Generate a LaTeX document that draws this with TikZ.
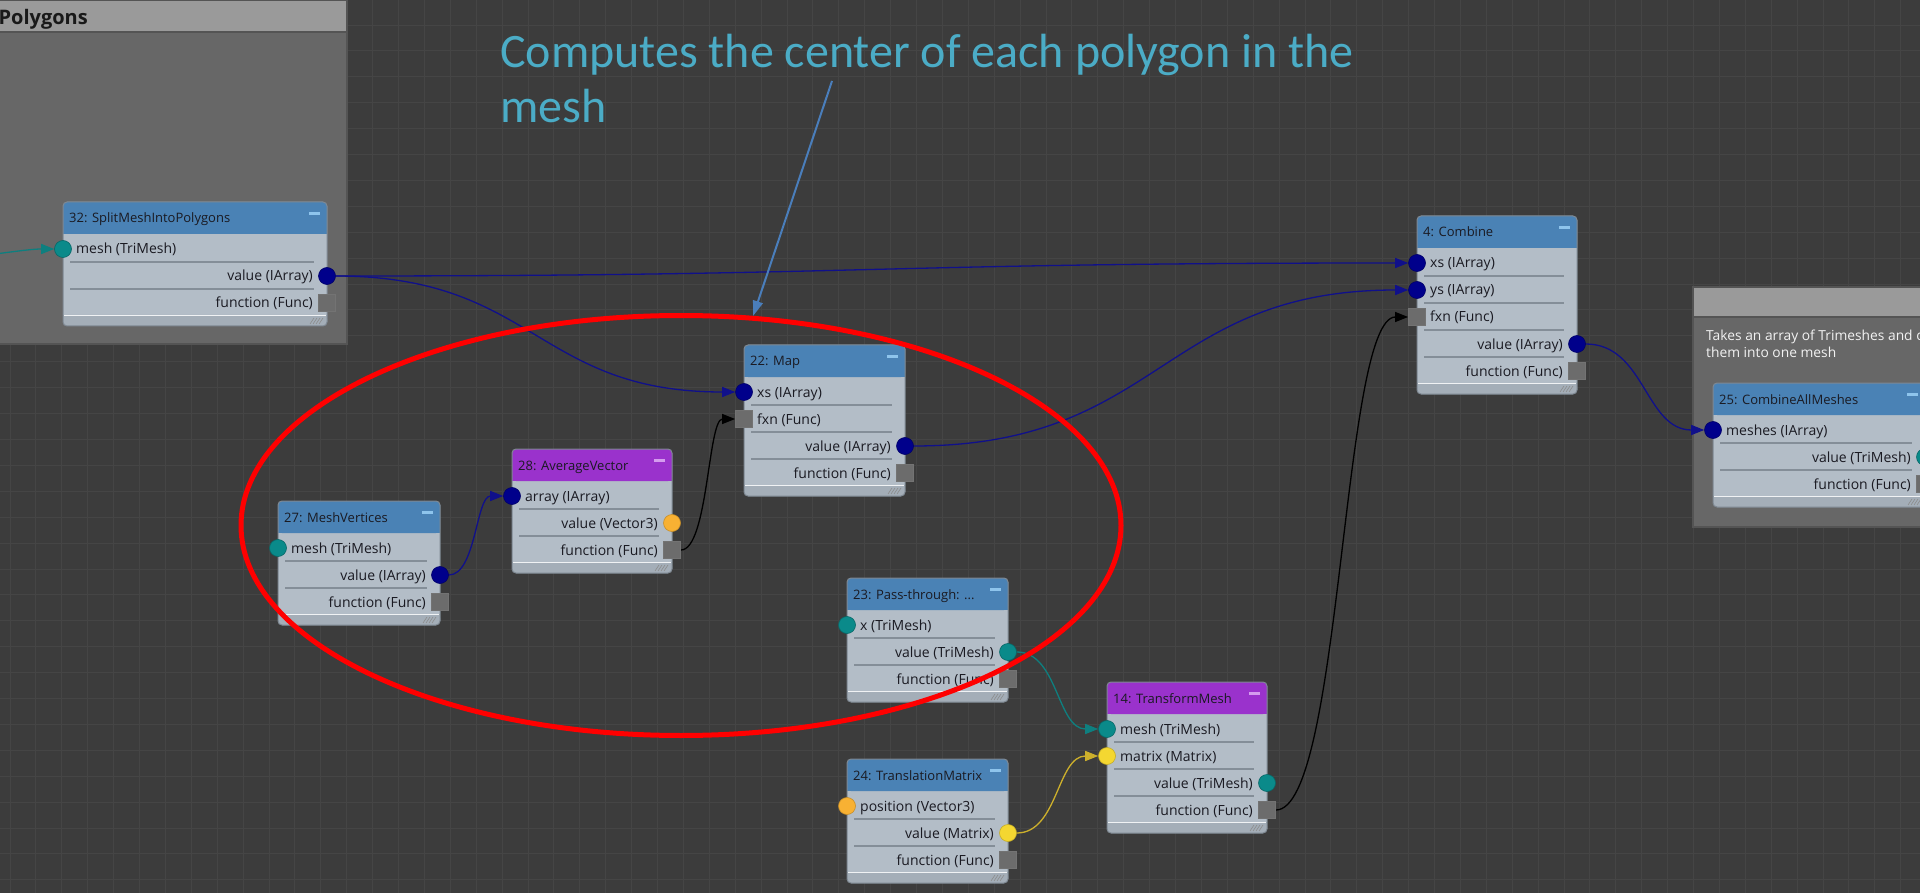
\documentclass[tikz,border=0pt]{standalone}
\usepackage{fontspec}
\usetikzlibrary{arrows.meta,shapes.geometric}
\newfontfamily\uifont{Open Sans}
\newfontfamily\capfont{Carlito}

\definecolor{canvas}{HTML}{3C3C3C}
\definecolor{gridline}{HTML}{454545}
\definecolor{groupbody}{HTML}{676767}
\definecolor{groupbar}{HTML}{9A9A9A}
\definecolor{groupedge}{HTML}{545454}
\definecolor{headblue}{HTML}{4A82B5}
\definecolor{headpurple}{HTML}{9A32CC}
\definecolor{nodebody}{HTML}{B3BDC7}
\definecolor{nodeedge}{HTML}{7E8892}
\definecolor{rowline}{HTML}{848E98}
\definecolor{footband}{HTML}{A4AEB8}
\definecolor{labelink}{HTML}{1A1A22}
\definecolor{arrnavy}{HTML}{00008B}
\definecolor{meshteal}{HTML}{0A8A8A}
\definecolor{vecorange}{HTML}{F8B133}
\definecolor{matyellow}{HTML}{F4D731}
\definecolor{funcgrey}{HTML}{6C6C6C}
\definecolor{wirenavy}{HTML}{10108A}
\definecolor{wireteal}{HTML}{0E7F7F}
\definecolor{wireyellow}{HTML}{CDB02C}
\definecolor{notecyan}{HTML}{4BACC6}
\definecolor{pointerblue}{HTML}{4A7EBB}
\definecolor{minusblue}{HTML}{8EC4EC}
\definecolor{minuspurple}{HTML}{D49CEE}

\pgfdeclarelayer{canvaslayer}
\pgfdeclarelayer{wirelayer}
\pgfsetlayers{canvaslayer,wirelayer,main}

\tikzset{
  rowtext/.style={font=\uifont\fontsize{14}{16}\selectfont, text=labelink,
    inner sep=0pt, text height=10pt, text depth=0pt},
  titletext/.style={font=\uifont\fontsize{13}{15}\selectfont, text=labelink,
    inner sep=0pt, text height=10pt, text depth=0pt},
  port/.style={circle, inner sep=0pt, minimum size=17pt, line width=0.6pt},
  arrayport/.style={port, fill=arrnavy, draw=arrnavy!75!black},
  meshport/.style={port, fill=meshteal, draw=meshteal!75!black},
  vecport/.style={port, fill=vecorange, draw=vecorange!80!black},
  matport/.style={port, fill=matyellow, draw=matyellow!80!black},
  funcport/.style={rectangle, inner sep=0pt, minimum size=17pt, fill=funcgrey,
    draw=black!55, line width=0.8pt},
  wire/.style={line width=1.3pt, -{Triangle[length=13pt,width=10pt]}},
  gripline/.style={draw=black!45, line width=0.6pt},
}

% A flow-graph operator box: name, left, top, width, rows, header colour, minus colour, title
\newcommand\flowbox[8]{%
  \def\bn{#1}%
  \pgfmathsetmacro\bx{#2}%
  \pgfmathsetmacro\by{#3}%
  \pgfmathsetmacro\bxr{#2+#4}%
  \pgfmathsetmacro\byb{#3+32+15+27*(#5-1)+23}%
  \pgfmathsetmacro\byh{#3+32}%
  \pgfmathtruncatemacro\nsep{#5-1}%
  \fill[nodebody, rounded corners=4pt] (\bx,\by) rectangle (\bxr,\byb);
  \fill[footband, rounded corners=4pt] (\bx,\byb-11) rectangle (\bxr,\byb);
  \fill[footband] (\bx,\byb-11) rectangle (\bxr,\byb-5);
  \draw[white!80!nodebody, line width=0.8pt] (\bx+1,\byb-11) -- (\bxr-1,\byb-11);
  \fill[#6, rounded corners=4pt] (\bx,\by) rectangle (\bxr,\byh);
  \fill[#6] (\bx,\byh-6) rectangle (\bxr,\byh);
  \draw[nodeedge, line width=1pt, rounded corners=4pt] (\bx,\by) rectangle (\bxr,\byb);
  \foreach \k in {1,...,\nsep} {
    \draw[rowline, line width=1.2pt] (\bx+7,\by+33+27*\k) -- (\bxr-13,\by+33+27*\k);
  }
  \fill[#7] (\bxr-18,\by+10) rectangle (\bxr-7,\by+13);
  \foreach \g in {0,3,6,9} {
    \draw[gripline] (\bxr-17+\g,\byb-2) -- (\bxr-13+\g,\byb-8);
  }
  \node[titletext, anchor=west] (#1-title) at (\bx+6,\by+16) {#8};
}
% Input row: index, label, port style
\newcommand\rowin[3]{%
  \pgfmathsetmacro\ry{\by+47+27*(#1-1)}%
  \node[rowtext, anchor=west] (\bn-t#1) at (\bx+13,\ry) {#2};
  \node[#3] (\bn-p#1) at (\bx,\ry) {};
}
% Output row: index, label, port style
\newcommand\rowout[3]{%
  \pgfmathsetmacro\ry{\by+47+27*(#1-1)}%
  \node[rowtext, anchor=east] (\bn-t#1) at (\bxr-14,\ry) {#2};
  \node[#3] (\bn-p#1) at (\bxr,\ry) {};
}

\begin{document}
\begin{tikzpicture}[x=1pt, y=-1pt]
\useasboundingbox (0,0) rectangle (1920,893);

\begin{pgfonlayer}{canvaslayer}
  \fill[canvas] (0,0) rectangle (1920,893);
  \foreach \gx in {9.9,35.8,...,1920} { \draw[gridline, line width=0.8pt] (\gx,0) -- (\gx,893); }
  \foreach \gy in {25,50.9,...,893} { \draw[gridline, line width=0.8pt] (0,\gy) -- (1920,\gy); }
  % group frames
  \fill[groupbody] (-20,0) rectangle (347,344);
  \fill[groupbar] (-20,0) rectangle (347,32);
  \draw[groupedge, line width=1.5pt] (-20,32) -- (347,32);
  \draw[groupedge, line width=2pt] (-20,0) rectangle (347,344);
  \fill[groupbody] (1693,287) rectangle (1940,527);
  \fill[groupbar] (1693,287) rectangle (1940,317);
  \draw[groupedge, line width=1.5pt] (1693,317) -- (1940,317);
  \draw[groupedge, line width=2pt] (1693,287) rectangle (1940,527);
\end{pgfonlayer}

\node[font=\uifont\bfseries\fontsize{20}{24}\selectfont, text=black!90, inner sep=0pt, anchor=base east]
  (grouptitle) at (88,25) {Polygons};
\node[font=\uifont\fontsize{13.8}{17}\selectfont, text=white!95!black, inner sep=0pt,
  anchor=north west, align=left] (groupnote) at (1706,330)
  {\rule{0pt}{10pt}Takes an array of Trimeshes and c\\them into one mesh};

% operator boxes
\flowbox{n32}{63}{202}{264}{3}{headblue}{minusblue}{32: SplitMeshIntoPolygons}
\rowin{1}{mesh (TriMesh)}{meshport}
\rowout{2}{value (IArray)}{arrayport}
\rowout{3}{function (Func)}{funcport}

\flowbox{n4}{1417}{216}{160}{5}{headblue}{minusblue}{4: Combine}
\rowin{1}{xs (IArray)}{arrayport}
\rowin{2}{ys (IArray)}{arrayport}
\rowin{3}{fxn (Func)}{funcport}
\rowout{4}{value (IArray)}{arrayport}
\rowout{5}{function (Func)}{funcport}

\flowbox{n22}{744}{345}{161}{4}{headblue}{minusblue}{22: Map}
\rowin{1}{xs (IArray)}{arrayport}
\rowin{2}{fxn (Func)}{funcport}
\rowout{3}{value (IArray)}{arrayport}
\rowout{4}{function (Func)}{funcport}

\flowbox{n27}{278}{501}{162}{3}{headblue}{minusblue}{27: MeshVertices}
\rowin{1}{mesh (TriMesh)}{meshport}
\rowout{2}{value (IArray)}{arrayport}
\rowout{3}{function (Func)}{funcport}

\flowbox{n28}{512}{449}{160}{3}{headpurple}{minuspurple}{28: AverageVector}
\rowin{1}{array (IArray)}{arrayport}
\rowout{2}{value (Vector3)}{vecport}
\rowout{3}{function (Func)}{funcport}

\flowbox{n23}{847}{578}{161}{3}{headblue}{minusblue}{23: Pass-through: ...}
\rowin{1}{x (TriMesh)}{meshport}
\rowout{2}{value (TriMesh)}{meshport}
\rowout{3}{function (Func)}{funcport}

\flowbox{n24}{847}{759}{161}{3}{headblue}{minusblue}{24: TranslationMatrix}
\rowin{1}{position (Vector3)}{vecport}
\rowout{2}{value (Matrix)}{matport}
\rowout{3}{function (Func)}{funcport}

\flowbox{n14}{1107}{682}{160}{4}{headpurple}{minuspurple}{14: TransformMesh}
\rowin{1}{mesh (TriMesh)}{meshport}
\rowin{2}{matrix (Matrix)}{matport}
\rowout{3}{value (TriMesh)}{meshport}
\rowout{4}{function (Func)}{funcport}

\flowbox{n25}{1713}{383}{212}{3}{headblue}{minusblue}{25: CombineAllMeshes}
\rowin{1}{meshes (IArray)}{arrayport}
\rowout{2}{value (TriMesh)}{meshport}
\rowout{3}{function (Func)}{funcport}

% connections
\coordinate (feed) at (-60,258);
\begin{pgfonlayer}{wirelayer}
  \draw[wire, wireteal] (feed) .. controls +(40,0) and +(-40,0) .. (n32-p1);
  \draw[wire, wirenavy] (n32-p2) .. controls +(545,0) and +(-545,0) .. (n4-p1);
  \draw[wire, wirenavy] (n32-p2) .. controls +(208,0) and +(-208,0) .. (n22-p1);
  \draw[wire, wirenavy] (n22-p3) .. controls +(256,0) and +(-256,0) .. (n4-p2);
  \draw[wire, black] (n14-p4) .. controls +(75,0) and +(-75,0) .. (n4-p3);
  \draw[wire, wirenavy] (n4-p4) .. controls +(68,0) and +(-68,0) .. (n25-p1);
  \draw[wire, wirenavy] (n27-p2) .. controls +(36,0) and +(-36,0) .. (n28-p1);
  \draw[wire, black] (n28-p3) .. controls +(36,0) and +(-36,0) .. (n22-p2);
  \draw[wire, wireteal] (n23-p2) .. controls +(50,0) and +(-50,0) .. (n14-p1);
  \draw[wire, wireyellow] (n24-p2) .. controls +(50,0) and +(-50,0) .. (n14-p2);
\end{pgfonlayer}

% highlight ring and its note
\node[ellipse, draw=red, line width=5pt, inner sep=0pt, minimum width=880pt,
  minimum height=420pt] (ring) at (681,525.5) {};
\node[font=\capfont\fontsize{48}{55}\selectfont, text=notecyan, inner sep=0pt,
  anchor=north west, align=left] (caption) at (500,27)
  {\rule{0pt}{40pt}Computes the center of each polygon in the\\mesh};
\coordinate (tail) at (832,81);
\draw[pointerblue, line width=2pt, -{Triangle[length=15pt,width=10pt]}] (tail) -- (ring.71);
\end{tikzpicture}
\end{document}
